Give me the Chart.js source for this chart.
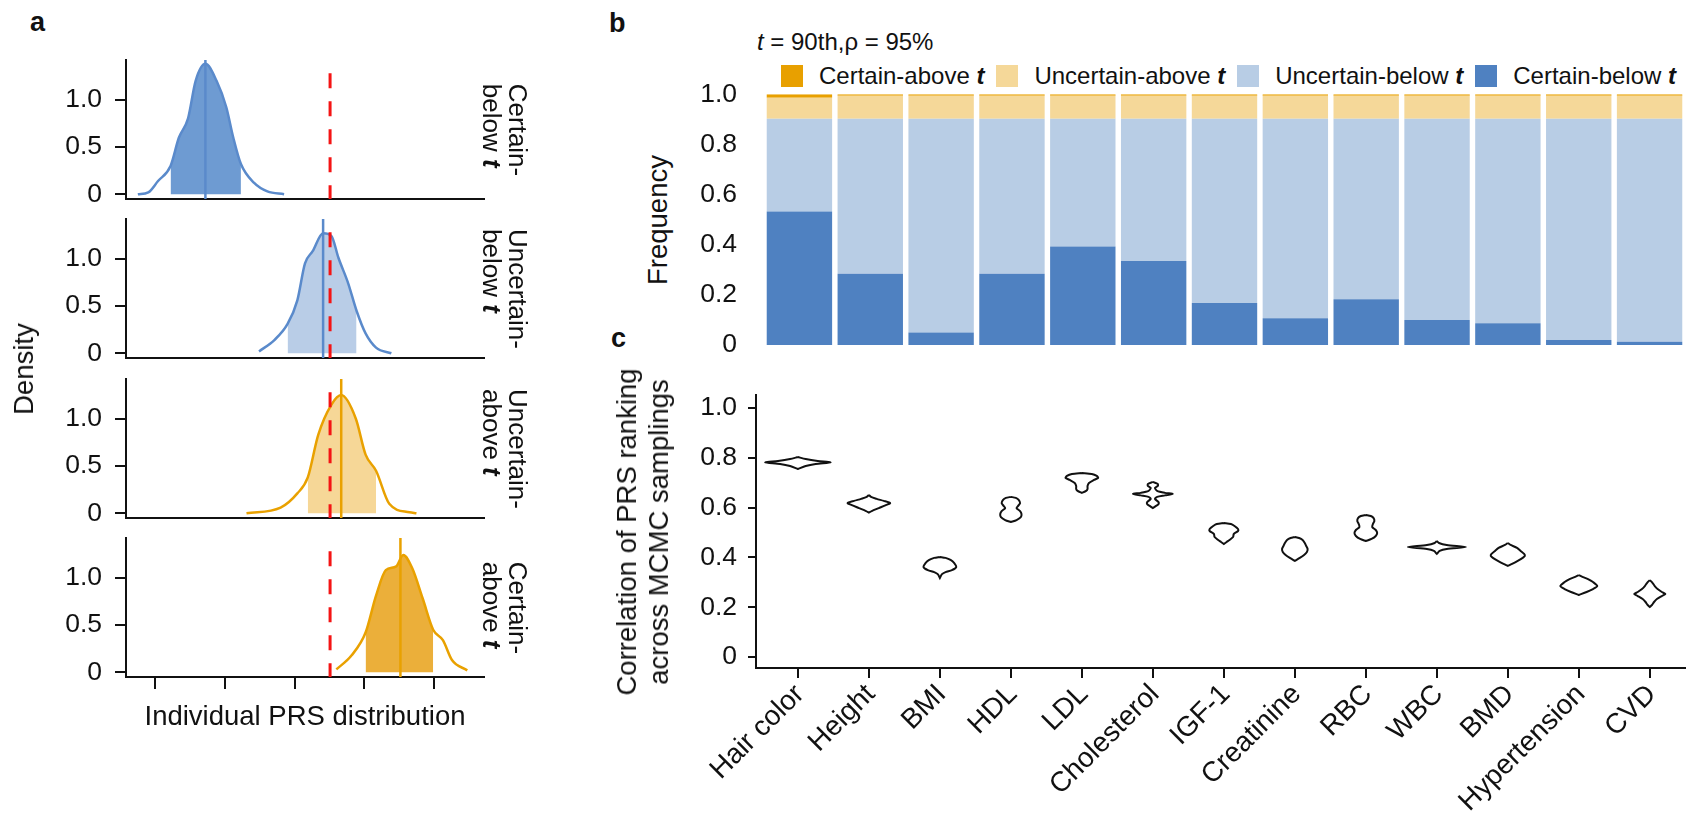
<!DOCTYPE html>
<html>
<head>
<meta charset="utf-8">
<script src="https://cdn.jsdelivr.net/npm/chart.js@4.4.0/dist/chart.umd.min.js"></script>
<style>
body { margin: 0; background: #fff; width: 1686px; height: 815px; position: relative; overflow: hidden;
       font-family: "Liberation Sans", Arial, sans-serif; color: #111; }
canvas { position: absolute; }
.abs { position: absolute; white-space: nowrap; }
.lab { font-weight: bold; font-size: 27px; line-height: 27px; }
.rot { position: absolute; white-space: nowrap; transform: translate(-50%, -50%) rotate(-90deg);
       font-size: 27.5px; line-height: 32px; text-align: center; }
.side { position: absolute; writing-mode: vertical-rl; font-size: 26px; line-height: 26px;
        transform: translate(-50%, -50%); white-space: nowrap; }
.legend { position: absolute; left: 781px; top: 65px; display: flex; align-items: center; font-size: 24px; white-space: nowrap; }
.legend .box { width: 22px; height: 22px; margin-right: 16px; flex: none; }
.legend .txt { margin-right: 12px; line-height: 22px; white-space: nowrap; }
</style>
</head>
<body>
<div class="abs lab" style="left:30px;top:9px">a</div>
<div class="abs lab" style="left:609px;top:10px">b</div>
<div class="abs lab" style="left:611px;top:325px">c</div>

<canvas id="a0" width="500" height="197" style="left:0;top:31px"></canvas>
<canvas id="a1" width="500" height="197" style="left:0;top:190px"></canvas>
<canvas id="a2" width="500" height="197" style="left:0;top:350px"></canvas>
<canvas id="a3" width="500" height="197" style="left:0;top:509px"></canvas>
<div id="sides"></div>
<div class="rot" style="left:24px;top:369px">Density</div>
<div class="abs" style="left:305px;top:702px;font-size:27.5px;line-height:28px;transform:translateX(-50%)">Individual PRS distribution</div>

<div class="abs" style="left:757px;top:30px;font-size:24px;line-height:24px"><i>t</i> = 90th,ρ = 95%</div>
<div class="legend" id="legend"></div>
<div class="rot" style="left:658px;top:220px">Frequency</div>
<canvas id="b" width="1086" height="337" style="left:600px;top:51px"></canvas>

<div class="rot" style="left:643px;top:532px">Correlation of PRS ranking<br>across MCMC samplings</div>
<canvas id="c" width="996" height="447" style="left:690px;top:368px"></canvas>

<script>
// ---- panel a: individual PRS densities ----
const groupNames = [['Certain-', 'below'], ['Uncertain-', 'below'], ['Uncertain-', 'above'], ['Certain-', 'above']];
const prsX = [
  [-2.25, -2.10, -1.96, -1.78, -1.66, -1.53, -1.42, -1.28, -1.12, -0.98, -0.88, -0.77, -0.58, -0.39, -0.15],
  [-0.51, -0.29, -0.10, 0.04, 0.15, 0.26, 0.41, 0.53, 0.63, 0.77, 0.89, 1.02, 1.17, 1.39],
  [-0.69, -0.20, 0.04, 0.19, 0.34, 0.53, 0.67, 0.88, 1.02, 1.17, 1.36, 1.65, 1.75],
  [0.60, 0.82, 1.02, 1.17, 1.31, 1.46, 1.56, 1.69, 1.84, 1.99, 2.13, 2.26, 2.48]
];
const prsDensity = [
  [0, 0.02, 0.14, 0.30, 0.60, 0.80, 1.20, 1.38, 1.20, 0.92, 0.60, 0.32, 0.12, 0.03, 0],
  [0.02, 0.14, 0.31, 0.56, 0.95, 1.08, 1.27, 1.24, 1.01, 0.74, 0.45, 0.21, 0.06, 0],
  [0, 0.06, 0.21, 0.38, 0.83, 1.15, 1.25, 1.00, 0.62, 0.45, 0.10, 0.01, 0],
  [0.03, 0.18, 0.42, 0.81, 1.08, 1.12, 1.24, 1.10, 0.78, 0.45, 0.34, 0.13, 0.02]
];
const shadeLo = [-1.78, -0.10, 0.19, 1.02];
const shadeHi = [-0.77, 0.89, 1.17, 1.99];
const prsMean = [-1.28, 0.41, 0.67, 1.52];
const threshold = 0.51;
const thresholdTop = 1.28;
const prsTicks = [-2, -1, 0, 1, 2];
const densityTicks = [0, 0.5, 1];

// ---- panel b: frequencies ----
const traits = ['Hair color', 'Height', 'BMI', 'HDL', 'LDL', 'Cholesterol', 'IGF-1', 'Creatinine', 'RBC', 'WBC', 'BMD', 'Hypertension', 'CVD'];
const certainBelow   = [0.533, 0.284, 0.050, 0.284, 0.393, 0.335, 0.168, 0.107, 0.182, 0.100, 0.087, 0.020, 0.013];
const uncertainBelow = [0.369, 0.618, 0.852, 0.618, 0.509, 0.567, 0.734, 0.795, 0.720, 0.802, 0.815, 0.882, 0.889];
const uncertainAbove = [0.084, 0.092, 0.092, 0.092, 0.092, 0.092, 0.092, 0.092, 0.092, 0.092, 0.092, 0.092, 0.092];
const certainAbove   = [0.014, 0.006, 0.006, 0.006, 0.006, 0.006, 0.006, 0.006, 0.006, 0.006, 0.006, 0.006, 0.006];
const freqTicks = [0, 0.2, 0.4, 0.6, 0.8, 1.0];

// ---- panel c: violins (correlation value, half width in category units) ----
const violinVals = [
  [0.803, 0.795, 0.787, 0.781, 0.775, 0.767, 0.755],
  [0.651, 0.643, 0.635, 0.627, 0.618, 0.610, 0.598, 0.586, 0.580],
  [0.402, 0.398, 0.390, 0.378, 0.361, 0.349, 0.341, 0.333, 0.317],
  [0.643, 0.639, 0.631, 0.618, 0.606, 0.598, 0.586, 0.574, 0.562, 0.550, 0.542],
  [0.739, 0.735, 0.727, 0.719, 0.711, 0.699, 0.687, 0.675, 0.667, 0.659],
  [0.703, 0.695, 0.687, 0.679, 0.667, 0.659, 0.655, 0.649, 0.643, 0.635, 0.622, 0.614, 0.606, 0.598],
  [0.538, 0.534, 0.526, 0.514, 0.506, 0.494, 0.482, 0.470, 0.462, 0.454],
  [0.482, 0.478, 0.470, 0.458, 0.446, 0.434, 0.422, 0.410, 0.398, 0.386],
  [0.570, 0.566, 0.558, 0.546, 0.534, 0.522, 0.510, 0.498, 0.486, 0.474, 0.466],
  [0.466, 0.458, 0.450, 0.442, 0.434, 0.426, 0.414],
  [0.458, 0.450, 0.438, 0.426, 0.414, 0.406, 0.398, 0.386, 0.374, 0.366],
  [0.329, 0.321, 0.313, 0.301, 0.285, 0.273, 0.261, 0.249],
  [0.309, 0.297, 0.285, 0.273, 0.261, 0.253, 0.245, 0.233, 0.221, 0.209, 0.201]
];
const violinHalf = [
  [0, 0.11, 0.28, 0.46, 0.25, 0.11, 0],
  [0, 0.03, 0.11, 0.21, 0.30, 0.24, 0.14, 0.04, 0],
  [0, 0.08, 0.15, 0.20, 0.23, 0.17, 0.08, 0.03, 0],
  [0, 0.07, 0.11, 0.13, 0.10, 0.08, 0.13, 0.15, 0.14, 0.08, 0],
  [0, 0.14, 0.21, 0.23, 0.17, 0.10, 0.08, 0.08, 0.06, 0],
  [0, 0.07, 0.07, 0.03, 0.06, 0.17, 0.28, 0.17, 0.06, 0.03, 0.08, 0.08, 0.04, 0],
  [0, 0.10, 0.15, 0.20, 0.20, 0.14, 0.13, 0.08, 0.04, 0],
  [0, 0.06, 0.11, 0.14, 0.16, 0.18, 0.17, 0.13, 0.07, 0],
  [0, 0.07, 0.11, 0.12, 0.10, 0.09, 0.14, 0.16, 0.14, 0.08, 0],
  [0, 0.03, 0.14, 0.41, 0.14, 0.04, 0],
  [0, 0.04, 0.13, 0.18, 0.23, 0.24, 0.21, 0.14, 0.06, 0],
  [0, 0.06, 0.13, 0.20, 0.26, 0.20, 0.11, 0],
  [0, 0.04, 0.07, 0.11, 0.17, 0.22, 0.17, 0.10, 0.06, 0.03, 0]
];
const corrTicks = [0, 0.2, 0.4, 0.6, 0.8, 1.0];

const BLUE = '#5A8ACB', ORANGE = '#E9A100';
const lineCol = [BLUE, BLUE, ORANGE, ORANGE];
const shadeCol = ['#6E9BD2', '#B9CDE7', '#F6D797', '#EBAF3A'];
const segCol = { certainAbove: '#E8A000', uncertainAbove: '#F5D899', uncertainBelow: '#B8CDE5', certainBelow: '#4F81C1' };

Chart.defaults.font.family = '"Liberation Sans", Arial, sans-serif';
Chart.defaults.color = '#111';
Chart.defaults.animation = false;
Chart.defaults.plugins.legend.display = false;
Chart.defaults.plugins.tooltip.enabled = false;

const fmt = v => v === 0 ? '0' : v.toFixed(1);
const tickFont = { size: 26.5 };

// mean line and red dashed threshold
const prsLines = {
  id: 'prsLines',
  afterDatasetsDraw(chart, args, opts) {
    const { ctx, chartArea: a, scales: { x, y } } = chart;
    ctx.save();
    ctx.strokeStyle = opts.color;
    ctx.lineWidth = 2.5;
    const mx = x.getPixelForValue(opts.mean);
    ctx.beginPath(); ctx.moveTo(mx, a.bottom); ctx.lineTo(mx, a.top); ctx.stroke();
    const tx = x.getPixelForValue(threshold);
    ctx.strokeStyle = '#F41414';
    ctx.lineWidth = 3;
    ctx.setLineDash([15, 13]);
    ctx.beginPath(); ctx.moveTo(tx, y.getPixelForValue(thresholdTop)); ctx.lineTo(tx, a.bottom); ctx.stroke();
    ctx.restore();
  }
};

// chart.js adds tick padding + half a label to the top/bottom, so the layout padding
// below is set to at least that much to keep the plot areas where they belong
groupNames.forEach((g, i) => {
  const pts = prsX[i].map((x, k) => ({ x, y: prsDensity[i][k] }));
  const shaded = pts.filter(p => p.x >= shadeLo[i] && p.x <= shadeHi[i]);
  const last = i === 3;
  new Chart(document.getElementById('a' + i), {
    type: 'line',
    data: { datasets: [
      { data: pts, borderColor: lineCol[i], borderWidth: 2.5, pointRadius: 0, cubicInterpolationMode: 'monotone', fill: false },
      { data: shaded, backgroundColor: shadeCol[i], borderWidth: 0, pointRadius: 0, cubicInterpolationMode: 'monotone', fill: 'origin' }
    ] },
    options: {
      responsive: false,
      layout: { padding: { top: 29, right: 16, left: 0, bottom: 0 } },
      plugins: { prsLines: { mean: prsMean[i], color: lineCol[i] } },
      scales: {
        x: {
          type: 'linear', min: -2.42, max: 2.72,
          afterFit: s => { s.height = 29; },
          afterBuildTicks: s => { s.ticks = prsTicks.map(v => ({ value: v })); },
          border: { display: true, color: '#111', width: 2 },
          grid: { display: last, drawOnChartArea: false, drawTicks: last, tickLength: 12, color: '#111', lineWidth: 2 },
          ticks: { display: false }
        },
        y: {
          min: -0.05, max: 1.42,
          afterFit: s => { s.width = 126; },
          afterBuildTicks: s => { s.ticks = densityTicks.map(v => ({ value: v })); },
          border: { display: true, color: '#111', width: 2 },
          grid: { drawOnChartArea: false, tickLength: 11, color: '#111', lineWidth: 2 },
          ticks: { padding: 13, font: tickFont, callback: fmt }
        }
      }
    },
    plugins: [prsLines]
  });
});

const sideTops = [129.5, 288.5, 448.5, 607.5];
document.getElementById('sides').innerHTML = groupNames.map((g, i) =>
  `<div class="side" style="left:505px;top:${sideTops[i]}px">${g[0]}<br>${g[1]} <b><i>t</i></b></div>`).join('');

// ---- panel b ----
const legendItems = [['Certain-above', 'certainAbove'], ['Uncertain-above', 'uncertainAbove'], ['Uncertain-below', 'uncertainBelow'], ['Certain-below', 'certainBelow']];
document.getElementById('legend').innerHTML = legendItems.map(([name, key]) =>
  `<div class="box" style="background:${segCol[key]}"></div><div class="txt">${name} <b><i>t</i></b></div>`).join('');

new Chart(document.getElementById('b'), {
  type: 'bar',
  data: { labels: traits, datasets: [
    { data: certainBelow, backgroundColor: segCol.certainBelow },
    { data: uncertainBelow, backgroundColor: segCol.uncertainBelow },
    { data: uncertainAbove, backgroundColor: segCol.uncertainAbove },
    { data: certainAbove, backgroundColor: segCol.certainAbove }
  ] },
  options: {
    responsive: false,
    datasets: { bar: { barPercentage: 0.923, categoryPercentage: 1, borderWidth: 0 } },
    layout: { padding: { top: 43.3, right: 1, bottom: 43, left: 0 } },
    scales: {
      x: { stacked: true, display: false },
      y: {
        stacked: true, min: 0, max: 1,
        afterFit: s => { s.width = 164; },
        afterBuildTicks: s => { s.ticks = freqTicks.map(v => ({ value: v })); },
        border: { display: false },
        grid: { display: false, drawTicks: false },
        ticks: { padding: 27, font: tickFont, callback: fmt }
      }
    }
  }
});

// ---- panel c ----
const violinSets = traits.map((t, i) => {
  const v = violinVals[i], h = violinHalf[i];
  const right = v.map((y, k) => ({ x: i + h[k], y }));
  const left = v.map((y, k) => ({ x: i - h[k], y })).reverse();
  return { data: right.concat(left, [right[0]]), showLine: true, borderColor: '#111', borderWidth: 2,
           pointRadius: 0, tension: 0.25, fill: false };
});

new Chart(document.getElementById('c'), {
  type: 'scatter',
  data: { datasets: violinSets },
  options: {
    responsive: false,
    layout: { padding: { top: 27, right: 0, left: 0, bottom: 0 } },
    scales: {
      x: {
        type: 'linear', min: -0.59, max: 12.51,
        afterFit: s => { s.height = 147; },
        afterBuildTicks: s => { s.ticks = traits.map((t, i) => ({ value: i })); },
        border: { display: true, color: '#111', width: 2 },
        grid: { drawOnChartArea: false, tickLength: 10, color: '#111', lineWidth: 2 },
        ticks: { autoSkip: false, minRotation: 45, maxRotation: 45, padding: 0, labelOffset: 2,
                 font: { size: 28 }, callback: v => traits[v] }
      },
      y: {
        min: -0.044, max: 1.052,
        afterFit: s => { s.width = 66; },
        afterBuildTicks: s => { s.ticks = corrTicks.map(v => ({ value: v })); },
        border: { display: true, color: '#111', width: 2 },
        grid: { drawOnChartArea: false, tickLength: 8, color: '#111', lineWidth: 2 },
        ticks: { padding: 11, font: tickFont, callback: fmt }
      }
    }
  }
});
</script>
</body>
</html>
